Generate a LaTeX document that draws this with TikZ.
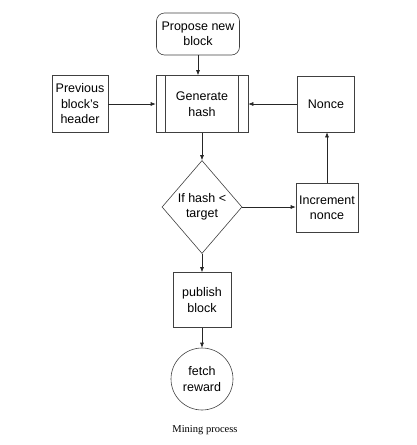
\documentclass[tikz,border=0pt]{standalone}
\usepackage{fontspec}
\setmainfont{Liberation Sans}
\newfontfamily\captionfont{Liberation Serif}
\usetikzlibrary{positioning,arrows.meta,shapes.geometric}

\begin{document}
\begin{tikzpicture}[
  x=1pt, y=-1pt,
  box/.style={draw=black!75, line width=0.6pt, align=center, inner sep=0pt,
    font=\fontsize{12.5}{15.5}\selectfont},
  proc/.style={box, minimum width=92pt, minimum height=57pt},
  decision/.style={box, diamond, minimum width=80pt, minimum height=93pt},
  terminal/.style={box, circle, minimum size=62pt},
  >={Latex[length=5pt,width=4pt]}
]
\useasboundingbox (0,0) rectangle (416,445);

\node[box, rounded corners=8pt, minimum width=83pt, minimum height=42pt] (propose) at (198,34) {Propose new\\block};
\node[proc] (gen) at (202,104) {Generate\\hash};
\draw[black!75, line width=0.6pt] ([xshift=10pt]gen.north west) -- ([xshift=10pt]gen.south west);
\draw[black!75, line width=0.6pt] ([xshift=-10pt]gen.north east) -- ([xshift=-10pt]gen.south east);
\node[box, minimum width=56pt, minimum height=57pt] (prev) at (80,104) {Previous\\block's\\header};
\node[box, minimum width=57pt, minimum height=56pt] (nonce) at (326,104) {Nonce};
\node[decision] (check) at (202,207) {If hash <\\target};
\node[box, minimum width=62pt, minimum height=49pt] (incr) at (327,208) {Increment\\nonce};
\node[box, minimum width=58pt, minimum height=55pt] (publish) at (202,300) {publish\\block};
\node[terminal] (reward) at (202,379) {fetch\\reward};

\node[font=\captionfont\fontsize{10.5}{12}\selectfont] (caption) at (205,430) {Mining process};

\draw[->, black!85, line width=0.6pt] (propose) -- (gen.north -| propose);
\draw[->, black!85, line width=0.6pt] (prev) -- (gen);
\draw[->, black!85, line width=0.6pt] (nonce) -- (gen);
\draw[->, black!85, line width=0.6pt] (gen) -- (check);
\draw[->, black!85, line width=0.6pt] (check) -- (incr.west |- check.east);
\draw[->, black!85, line width=0.6pt] (incr) -- (nonce.south -| incr);
\draw[->, black!85, line width=0.6pt] (check) -- (publish);
\draw[->, black!85, line width=0.6pt] (publish) -- (reward);
\end{tikzpicture}
\end{document}
